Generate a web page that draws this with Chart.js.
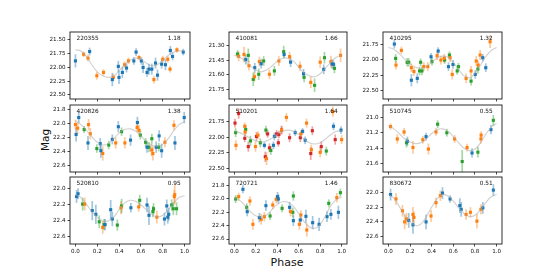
<!DOCTYPE html>
<html><head><meta charset="utf-8">
<script src="https://cdn.jsdelivr.net/npm/chart.js@4/dist/chart.umd.min.js"></script>
<style>
html,body{margin:0;padding:0;background:#fff;width:560px;height:275px;overflow:hidden;position:relative;font-family:"DejaVu Sans",sans-serif;}
canvas{position:absolute;}
.lbl{position:absolute;color:#111;white-space:nowrap;}
</style></head><body>
<div class="lbl" id="ylab" style="font-size:10.5px;left:45px;top:140px;transform:translate(-50%,-50%) rotate(-90deg);">Mag</div>
<div class="lbl" id="xlab" style="font-size:11px;left:287px;top:262px;transform:translate(-50%,-50%);">Phase</div>
<script>
// ---------- data ----------
const X_TICKS = [0.0, 0.2, 0.4, 0.6, 0.8, 1.0];
const CURVE_PHASE = [0,0.05,0.1,0.15,0.2,0.25,0.3,0.35,0.4,0.45,0.5,0.55,0.6,0.65,0.7,0.75,0.8,0.85,0.9,0.95,1.0];

const NAMES = ["220355","410081","410295","420826","510201","510745","520810","720721","830672"];
const PERIODS = ["1.18","1.66","1.32","1.38","1.64","0.55","0.95","1.46","0.51"];

// y tick labels for each panel
const Y_TICKS_1 = [21.50,21.75,22.00,22.25,22.50];
const Y_TICKS_2 = [21.30,21.45,21.60,21.75];
const Y_TICKS_3 = [21.75,22.00,22.25,22.50];
const Y_TICKS_4 = [21.8,22.0,22.2,22.4,22.6];
const Y_TICKS_5 = [21.75,22.00,22.25,22.50];
const Y_TICKS_6 = [21.0,21.2,21.4,21.6];
const Y_TICKS_7 = [22.0,22.2,22.4,22.6];
const Y_TICKS_8 = [21.8,22.0,22.2,22.4,22.6];
const Y_TICKS_9 = [22.0,22.2,22.4,22.6];

// model curves (mag at CURVE_PHASE)
const CURVE_1 = [21.68,21.70,21.80,21.95,22.08,22.15,22.18,22.16,22.06,21.95,21.87,21.83,21.85,21.92,21.97,21.95,21.87,21.78,21.72,21.70,21.70];
const CURVE_2 = [21.40,21.42,21.46,21.51,21.55,21.57,21.55,21.51,21.46,21.43,21.43,21.46,21.52,21.58,21.61,21.62,21.59,21.53,21.47,21.42,21.40];
const CURVE_3 = [21.80,21.83,21.90,21.99,22.07,22.12,22.14,22.11,22.04,21.97,21.94,21.96,22.04,22.16,22.26,22.29,22.22,22.09,21.95,21.85,21.80];
const CURVE_4 = [21.97,22.02,22.10,22.19,22.27,22.31,22.29,22.22,22.14,22.09,22.08,22.11,22.18,22.26,22.31,22.33,22.30,22.22,22.11,22.02,21.98];
const CURVE_5 = [21.90,21.93,21.97,22.02,22.06,22.08,22.06,22.02,21.96,21.91,21.89,21.91,21.96,22.03,22.09,22.11,22.09,22.03,21.96,21.91,21.90];
const CURVE_6 = [21.11,21.15,21.21,21.28,21.32,21.34,21.33,21.28,21.21,21.16,21.15,21.18,21.25,21.33,21.40,21.43,21.41,21.33,21.22,21.13,21.08];
const CURVE_7 = [22.075,22.11,22.192,22.285,22.355,22.402,22.402,22.355,22.262,22.18,22.145,22.157,22.203,22.262,22.32,22.355,22.332,22.262,22.18,22.11,22.087];
const CURVE_8 = [21.99,22.02,22.10,22.19,22.25,22.27,22.24,22.16,22.08,22.04,22.05,22.11,22.22,22.34,22.42,22.44,22.38,22.25,22.10,22.01,21.97];
const CURVE_9 = [22.03,22.08,22.19,22.31,22.40,22.45,22.43,22.33,22.20,22.09,22.03,22.05,22.12,22.21,22.29,22.33,22.31,22.24,22.14,22.06,22.03];

// observations: [phase, mag, error]
const P1_BLUE = [[0.00,21.88,0.12],[0.13,21.71,0.07],[0.338,22.22,0.12],[0.393,21.98,0.1],[0.399,22.18,0.12],[0.43,22.09,0.1],[0.468,22.01,0.08],[0.535,21.88,0.07],[0.556,21.72,0.07],[0.604,21.88,0.07],[0.62,22.0,0.1],[0.656,22.09,0.08],[0.674,22.03,0.1],[0.70,22.03,0.1],[0.734,21.92,0.1],[0.752,22.14,0.1],[0.79,21.94,0.08],[0.825,21.95,0.1],[0.87,21.69,0.08],[0.89,21.80,0.07],[0.988,21.72,0.06]];
const P1_ORANGE = [[0.075,21.76,0.05],[0.115,21.83,0.06],[0.196,22.15,0.07],[0.257,22.09,0.06],[0.347,22.18,0.06],[0.45,21.95,0.06],[0.486,21.88,0.06],[0.583,21.82,0.05],[0.719,22.22,0.07],[0.80,21.85,0.06],[0.846,21.85,0.06],[0.867,22.03,0.06],[0.93,21.68,0.05]];

const P2_BLUE = [[0.106,21.444,0.05],[0.19,21.527,0.05],[0.25,21.486,0.05],[0.464,21.39,0.04],[0.524,21.47,0.05],[0.645,21.589,0.05],[0.833,21.544,0.05],[0.91,21.489,0.05],[0.924,21.492,0.04]];
const P2_ORANGE = [[0.04,21.41,0.05],[0.09,21.39,0.08],[0.136,21.506,0.05],[0.188,21.62,0.05],[0.233,21.465,0.05],[0.327,21.595,0.05],[0.415,21.458,0.05],[0.515,21.413,0.05],[0.612,21.513,0.05],[0.712,21.678,0.06],[0.80,21.47,0.06],[0.90,21.465,0.06],[0.99,21.40,0.07]];
const P2_GREEN = [[0.03,21.386,0.04],[0.13,21.40,0.07],[0.176,21.647,0.07],[0.227,21.595,0.06],[0.273,21.458,0.05],[0.373,21.56,0.05],[0.46,21.362,0.06],[0.65,21.626,0.05],[0.748,21.709,0.07],[0.84,21.424,0.06],[0.933,21.534,0.05]];

const P3_BLUE = [[0.055,21.745,0.07],[0.212,22.33,0.1],[0.267,22.30,0.08],[0.394,21.95,0.06],[0.46,21.858,0.06],[0.555,22.11,0.07],[0.597,22.075,0.07],[0.803,22.236,0.07],[0.872,21.966,0.06],[0.90,22.128,0.07]];
const P3_ORANGE = [[0.07,22.085,0.07],[0.12,21.847,0.06],[0.212,22.128,0.07],[0.236,22.19,0.07],[0.327,22.11,0.07],[0.364,22.11,0.07],[0.45,21.934,0.07],[0.485,22.004,0.07],[0.515,21.977,0.07],[0.57,21.966,0.07],[0.59,22.236,0.08],[0.718,22.30,0.08],[0.764,22.18,0.08],[0.812,22.02,0.08],[0.83,22.085,0.07],[0.848,21.923,0.08],[0.94,21.707,0.1]];
const P3_GREEN = [[0.067,21.977,0.07],[0.173,22.04,0.07],[0.188,22.04,0.07],[0.288,22.18,0.07],[0.31,22.18,0.07],[0.298,22.04,0.06],[0.403,22.03,0.06],[0.52,22.004,0.06],[0.564,21.923,0.06],[0.636,22.18,0.06],[0.648,22.11,0.06],[0.764,22.345,0.07],[0.827,22.15,0.07]];

const P4_BLUE = [[0.006,22.16,0.1],[0.03,21.92,0.08],[0.115,22.28,0.1],[0.227,22.29,0.08],[0.233,22.39,0.1],[0.338,22.23,0.07],[0.393,22.05,0.08],[0.505,22.24,0.08],[0.568,21.99,0.08],[0.656,22.34,0.08],[0.74,22.34,0.08],[0.767,22.18,0.08],[0.79,22.39,0.1],[0.912,22.28,0.1],[0.997,21.92,0.08]];
const P4_ORANGE = [[0.0,22.02,0.07],[0.02,22.07,0.08],[0.12,22.02,0.08],[0.136,22.15,0.08],[0.25,22.43,0.1],[0.369,22.28,0.08],[0.453,22.28,0.08],[0.565,22.06,0.07],[0.583,22.10,0.07],[0.698,22.38,0.09],[0.71,22.43,0.1],[0.82,22.27,0.07],[0.903,22.03,0.07]];
const P4_GREEN = [[0.08,22.09,0.05],[0.196,22.36,0.06],[0.305,22.31,0.06],[0.423,22.12,0.06],[0.595,22.17,0.06],[0.643,22.27,0.06],[0.674,22.34,0.07],[0.70,22.22,0.07],[0.764,22.34,0.06]];

const P5_BLUE = [[0.28,22.13,0.05],[0.364,22.13,0.06],[0.373,21.99,0.06],[0.567,21.93,0.05],[0.636,21.91,0.05],[0.66,22.05,0.06],[0.924,21.83,0.06],[0.994,21.89,0.06]];
const P5_ORANGE = [[0.015,22.13,0.08],[0.097,21.83,0.06],[0.10,21.92,0.06],[0.197,22.15,0.08],[0.22,21.97,0.06],[0.30,22.34,0.1],[0.44,21.89,0.06],[0.485,21.69,0.07],[0.62,21.95,0.06],[0.673,21.78,0.07],[0.718,22.20,0.08],[0.80,22.24,0.08],[0.918,21.60,0.08],[1.0,22.04,0.07]];
const P5_GREEN = [[0.012,21.93,0.07],[0.106,21.88,0.07],[0.15,22.06,0.08],[0.242,22.09,0.07],[0.294,21.89,0.07],[0.34,22.21,0.07],[0.857,22.22,0.07]];
const P5_RED = [[0.006,21.78,0.07],[0.04,21.63,0.08],[0.097,22.02,0.06],[0.13,22.15,0.08],[0.206,21.99,0.07],[0.288,22.31,0.08],[0.31,21.95,0.06],[0.327,22.17,0.07],[0.394,21.95,0.06],[0.41,22.09,0.06],[0.415,21.96,0.06],[0.44,21.89,0.07],[0.515,22.01,0.07],[0.615,22.01,0.07],[0.712,22.26,0.1],[0.727,21.90,0.07],[0.81,22.15,0.08],[0.94,22.04,0.08]];

const P6_BLUE = [[0.176,21.31,0.06],[0.348,21.25,0.05],[0.773,21.46,0.06],[0.948,21.16,0.06]];
const P6_ORANGE = [[0.02,21.12,0.04],[0.082,21.28,0.06],[0.145,21.19,0.05],[0.227,21.39,0.08],[0.318,21.29,0.05],[0.37,21.41,0.07],[0.44,21.19,0.05],[0.612,21.28,0.05],[0.727,21.39,0.05],[0.855,21.28,0.06],[0.857,21.23,0.05]];
const P6_GREEN = [[0.167,21.33,0.06],[0.455,21.09,0.05],[0.54,21.20,0.05],[0.682,21.57,0.15],[0.827,21.45,0.07],[0.97,21.04,0.07]];

const P7_BLUE = [[0.01,22.098,0.08],[0.024,22.063,0.07],[0.154,22.273,0.12],[0.187,22.32,0.12],[0.272,22.448,0.07],[0.323,22.262,0.12],[0.338,22.378,0.09],[0.508,22.238,0.06],[0.656,22.203,0.09],[0.674,22.332,0.12],[0.816,22.378,0.08],[0.837,22.215,0.08],[0.846,22.355,0.08],[0.855,22.32,0.08]];
const P7_ORANGE = [[0.085,22.192,0.08],[0.25,22.483,0.08],[0.417,22.238,0.08],[0.58,22.227,0.06],[0.746,22.355,0.08],[0.906,22.098,0.08],[0.91,22.075,0.12]];
const P7_GREEN = [[0.066,22.192,0.08],[0.218,22.413,0.08],[0.263,22.448,0.07],[0.384,22.454,0.07],[0.423,22.215,0.09],[0.589,22.145,0.07],[0.71,22.285,0.07],[0.716,22.25,0.07],[0.882,22.203,0.07],[0.897,22.25,0.08],[0.927,22.25,0.08]];

const P8_BLUE = [[0.08,21.855,0.06],[0.12,22.19,0.07],[0.233,22.28,0.07],[0.294,22.10,0.08],[0.403,21.965,0.07],[0.41,22.0,0.07],[0.515,22.125,0.08],[0.55,22.325,0.08],[0.615,22.315,0.08],[0.667,22.26,0.1],[0.73,22.355,0.1],[0.79,22.38,0.1],[0.864,22.265,0.08],[0.90,22.23,0.08],[0.97,22.20,0.1]];
const P8_ORANGE = [[0.04,21.965,0.06],[0.145,22.03,0.07],[0.173,22.38,0.08],[0.25,22.305,0.08],[0.28,22.265,0.07],[0.358,22.09,0.06],[0.39,22.005,0.06],[0.524,22.19,0.07],[0.606,22.38,0.08],[0.62,22.24,0.07],[0.675,22.465,0.1],[0.955,21.98,0.07]];
const P8_GREEN = [[0.012,22.0,0.06],[0.115,22.125,0.06],[0.333,22.255,0.06],[0.445,22.14,0.06],[0.545,22.2,0.07],[0.55,21.955,0.07],[0.88,22.065,0.06],[0.988,21.905,0.06]];

const P9_BLUE = [[0.02,22.03,0.08],[0.188,22.38,0.1],[0.227,22.44,0.12],[0.348,22.40,0.1],[0.50,22.01,0.08],[0.57,22.09,0.05],[0.66,22.18,0.1],[0.673,22.23,0.1],[0.873,22.21,0.08],[0.97,21.97,0.08]];
const P9_ORANGE = [[0.07,22.09,0.08],[0.13,22.25,0.08],[0.15,22.40,0.1],[0.167,22.36,0.08],[0.227,22.30,0.1],[0.236,22.34,0.08],[0.394,22.32,0.08],[0.44,22.14,0.07],[0.48,22.045,0.07],[0.718,22.30,0.07],[0.758,22.27,0.07],[0.818,22.39,0.1],[0.855,22.23,0.07]];

// ---------- layout / style ----------
const COL_LEFT = [70, 229, 383];
const COL_W = [120, 118, 119];
const ROW_TOP = [32, 104.5, 177];
const ROW_H = 67;
const AXW = 40, AXH = 18, PADT = 10, PADR = 10;
const C = {blue:'#1f77b4', orange:'#ff7f0e', green:'#2ca02c', red:'#d62728'};
const CA = {blue:'rgba(31,119,180,0.42)', orange:'rgba(255,127,14,0.42)', green:'rgba(44,160,44,0.42)', red:'rgba(214,39,40,0.42)'};
const FONT = 'DejaVu Sans';
Chart.defaults.font.family = FONT;

const PANELS = [
  {yr:[21.355,22.573], yt:Y_TICKS_1, dec:2, curve:CURVE_1, s:[['blue',P1_BLUE],['orange',P1_ORANGE]]},
  {yr:[21.159,21.850], yt:Y_TICKS_2, dec:2, curve:CURVE_2, s:[['blue',P2_BLUE],['orange',P2_ORANGE],['green',P2_GREEN]]},
  {yr:[21.550,22.634], yt:Y_TICKS_3, dec:2, curve:CURVE_3, s:[['blue',P3_BLUE],['orange',P3_ORANGE],['green',P3_GREEN]]},
  {yr:[21.742,22.692], yt:Y_TICKS_4, dec:1, curve:CURVE_4, s:[['blue',P4_BLUE],['orange',P4_ORANGE],['green',P4_GREEN]]},
  {yr:[21.495,22.550], yt:Y_TICKS_5, dec:2, curve:CURVE_5, s:[['blue',P5_BLUE],['orange',P5_ORANGE],['green',P5_GREEN],['red',P5_RED]]},
  {yr:[20.843,21.705], yt:Y_TICKS_6, dec:1, curve:CURVE_6, s:[['blue',P6_BLUE],['orange',P6_ORANGE],['green',P6_GREEN]]},
  {yr:[21.854,22.690], yt:Y_TICKS_7, dec:1, curve:CURVE_7, s:[['blue',P7_BLUE],['orange',P7_ORANGE],['green',P7_GREEN]]},
  {yr:[21.670,22.675], yt:Y_TICKS_8, dec:1, curve:CURVE_8, s:[['blue',P8_BLUE],['orange',P8_ORANGE],['green',P8_GREEN]]},
  {yr:[21.793,22.699], yt:Y_TICKS_9, dec:1, curve:CURVE_9, s:[['blue',P9_BLUE],['orange',P9_ORANGE]]},
];

const errPlugin = {
  id:'errbars',
  beforeDatasetsDraw(chart){
    const ctx = chart.ctx, xs = chart.scales.x, ys = chart.scales.y, a = chart.chartArea;
    ctx.save();
    ctx.beginPath(); ctx.rect(a.left, a.top, a.right-a.left, a.bottom-a.top); ctx.clip();
    chart.data.datasets.forEach(ds => {
      if (!ds.errColor) return;
      ctx.strokeStyle = ds.errColor; ctx.lineWidth = 1.7;
      ds.data.forEach(p => {
        const x = xs.getPixelForValue(p.x);
        ctx.beginPath();
        ctx.moveTo(x, ys.getPixelForValue(p.y - p.e));
        ctx.lineTo(x, ys.getPixelForValue(p.y + p.e));
        ctx.stroke();
      });
    });
    ctx.restore();
  }
};
const framePlugin = {
  id:'frame',
  afterDraw(chart){
    const ctx = chart.ctx, a = chart.chartArea, o = chart.options.plugins.frame;
    ctx.save();
    ctx.strokeStyle = '#1a1a1a'; ctx.lineWidth = 0.9;
    ctx.strokeRect(a.left, a.top, a.right-a.left, a.bottom-a.top);
    ctx.fillStyle = '#111'; ctx.font = '5.8px "' + FONT + '"'; ctx.textBaseline = 'middle';
    ctx.textAlign = 'left'; ctx.fillText(o.name, a.left + 6.5, a.top + 6.3);
    ctx.textAlign = 'right'; ctx.fillText(o.period, a.right - 9.3, a.top + 6.3);
    ctx.restore();
  }
};

PANELS.forEach((P, i) => {
  const r = Math.floor(i/3), c = i % 3;
  const w = COL_W[c];
  const cv = document.createElement('canvas');
  const cw = AXW + w + PADR, ch = PADT + ROW_H + AXH;
  cv.width = cw; cv.height = ch;
  cv.style.left = (COL_LEFT[c] - AXW) + 'px';
  cv.style.top = (ROW_TOP[r] - PADT) + 'px';
  cv.style.width = cw + 'px'; cv.style.height = ch + 'px';
  document.body.appendChild(cv);
  const showX = (r === 2);
  const datasets = [{
    type:'line', showLine:true,
    data: CURVE_PHASE.map((p, k) => ({x:p, y:P.curve[k]})),
    borderColor:'rgba(170,170,170,0.55)', borderWidth:1.1, pointRadius:0, tension:0.4, fill:false
  }];
  P.s.forEach(([col, arr]) => {
    datasets.push({
      type:'scatter',
      data: arr.map(d => ({x:d[0], y:d[1], e:d[2]})),
      errColor: CA[col],
      backgroundColor: C[col], borderColor: C[col], borderWidth:0,
      pointStyle:'rect', pointRadius:2.2
    });
  });
  new Chart(cv, {
    type:'scatter',
    data:{datasets},
    options:{
      responsive:false, animation:false, devicePixelRatio:1,
      layout:{padding:{top:PADT, right:PADR, left:0, bottom:0}},
      plugins:{legend:{display:false}, tooltip:{enabled:false}, frame:{name:NAMES[i], period:PERIODS[i]}},
      scales:{
        x:{type:'linear', min:-0.05, max:1.05,
          afterBuildTicks: s => { s.ticks = X_TICKS.map(v => ({value:v})); },
          afterFit: s => { s.height = AXH; },
          ticks:{autoSkip:false, maxRotation:0, padding:1.2, color:'#111', font:{size:5.6, family:FONT},
            callback: v => showX ? Number(v).toFixed(1) : ''},
          grid:{drawOnChartArea:false, drawTicks:true, tickLength:2.5, color:'#1a1a1a', lineWidth:0.8},
          border:{display:false}
        },
        y:{type:'linear', reverse:true, min:P.yr[0], max:P.yr[1],
          afterBuildTicks: s => { s.ticks = P.yt.map(v => ({value:v})); },
          afterFit: s => { s.width = AXW; },
          ticks:{autoSkip:false, padding:2, color:'#111', font:{size:5.6, family:FONT},
            callback: v => Number(v).toFixed(P.dec)},
          grid:{drawOnChartArea:false, drawTicks:true, tickLength:2.5, color:'#1a1a1a', lineWidth:0.8},
          border:{display:false}
        }
      }
    },
    plugins:[errPlugin, framePlugin]
  });
});
</script>
</body></html>
